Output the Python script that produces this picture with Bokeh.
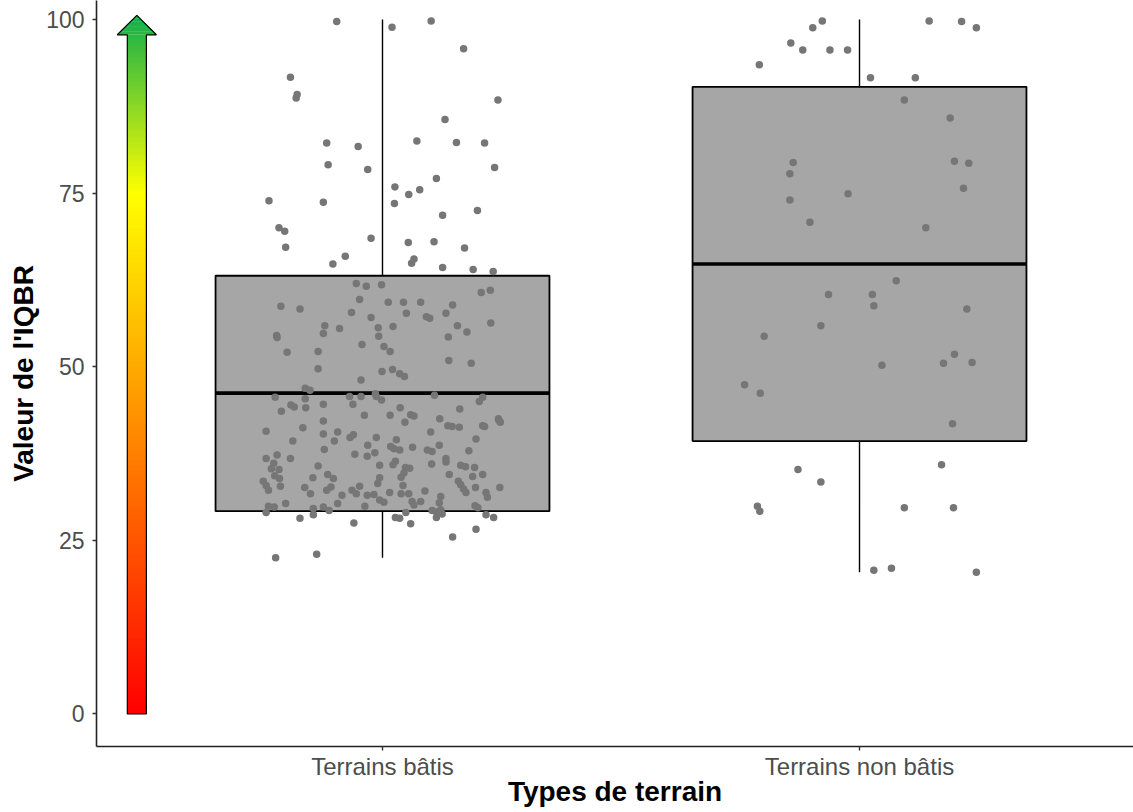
import numpy as np
from bokeh.plotting import figure
from bokeh.models import Range1d, FixedTicker
from bokeh.embed import file_html
from bokeh.resources import INLINE

# ---------------- data ----------------
categories = ["Terrains bâtis", "Terrains non bâtis"]
cat_pos = [1, 2]

q1 = [29.2, 39.3]
median = [46.2, 64.8]
q3 = [63.1, 90.3]
whisker_low = [22.5, 20.4]
whisker_high = [100.0, 100.0]

y_ticks = [0, 25, 50, 75, 100]

bati_jitter = [
    -0.096, 0.020, 0.102, 0.170, -0.193, -0.179, -0.181, 0.242, 0.131, -0.117,
    -0.051, 0.072, 0.155, 0.214, -0.114, -0.031, 0.235, 0.113, 0.026, 0.078,
    0.055, -0.238, -0.124, 0.025, 0.199, 0.126, -0.217, -0.205, -0.024, 0.054,
    0.108, -0.203, 0.172, -0.078, -0.104, 0.066, 0.061, 0.126, 0.190, 0.232,
    -0.055, -0.034, -0.002, -0.048, -0.213, -0.173, -0.065, -0.024, -0.121, -0.090,
    -0.009, -0.124, -0.222, -0.221, -0.008, -0.043, 0.003, -0.200, -0.135, -0.135,
    -0.001, -0.045, -0.162, -0.152, -0.225, -0.162, -0.069, -0.045, -0.015, -0.013,
    -0.002, -0.192, -0.185, -0.124, -0.062, -0.212, -0.161, -0.038, -0.124,
    0.207, 0.226, 0.012, 0.044, 0.080, 0.147, 0.050, 0.092, 0.099, 0.133,
    0.227, 0.022, 0.157, 0.177, 0.138, 0.016, 0.139, 0.186, 0.021, 0.036,
    0.046, 0.109, 0.203, 0.210, 0.037, 0.016, 0.059, 0.066, 0.162, 0.120, 0.243,
    -0.244, -0.167, -0.124, -0.094, -0.188, -0.101, -0.068, -0.061, -0.013, -0.031,
    -0.122, -0.058, -0.016, -0.032, -0.221, -0.244, -0.193, -0.228, -0.233, -0.217,
    -0.135, -0.006, -0.226, -0.216, -0.146, -0.115, -0.103, -0.006, -0.010, -0.250,
    -0.244, -0.214, -0.239, -0.163, -0.151, -0.117, -0.108, -0.085, -0.064, -0.055,
    -0.048, -0.032, -0.018, -0.006, 0.003, -0.203, -0.094, -0.037, -0.239, -0.227,
    -0.244, -0.145, -0.145, -0.124, -0.112, -0.173, -0.060, -0.224, -0.138,
    0.047, 0.137, 0.146, 0.161, 0.210, 0.214, 0.244, 0.247, 0.101, 0.029,
    0.196, 0.017, 0.024, 0.036, 0.063, 0.094, 0.104, 0.119, 0.181, 0.027,
    0.022, 0.048, 0.057, 0.045, 0.103, 0.133, 0.133, 0.164, 0.174, 0.193,
    0.039, 0.043, 0.140, 0.189, 0.210, 0.159, 0.164, 0.170, 0.175, 0.195,
    0.246, 0.015, 0.039, 0.055, 0.089, 0.122, 0.217, 0.220, 0.062, 0.080,
    0.066, 0.119, 0.194, 0.200, 0.104, 0.113, 0.122, 0.113, 0.125, 0.049,
    0.027, 0.036, 0.217, 0.233, 0.059, 0.196, 0.147,
]
bati_y = [
    99.7, 98.9, 99.8, 95.8, 91.7, 89.2, 88.7, 88.4, 85.6, 82.2,
    81.7, 82.5, 82.3, 82.2, 79.1, 78.4, 78.7, 77.1, 75.9, 75.5,
    74.8, 73.9, 73.7, 73.5, 72.5, 71.8, 70.0, 69.5, 68.5, 67.9,
    68.0, 67.2, 67.1, 65.9, 64.8, 65.5, 64.9, 64.3, 64.0, 63.7,
    62.0, 61.6, 61.8, 59.7, 58.7, 58.3, 57.8, 57.1, 55.9, 55.5,
    55.6, 54.8, 54.5, 54.2, 54.4, 53.2, 52.9, 52.1, 52.2, 49.7,
    49.3, 48.1, 46.9, 46.6, 45.6, 45.4, 45.7, 45.7, 46.1, 45.7,
    45.2, 44.5, 44.2, 44.6, 44.6, 43.6, 44.1, 43.0, 42.2,
    60.7, 61.0, 59.3, 59.3, 59.3, 58.9, 57.7, 57.2, 57.0, 57.7,
    56.3, 55.8, 55.9, 55.0, 54.3, 52.2, 50.9, 50.5, 49.6, 49.0,
    48.6, 45.9, 45.0, 45.6, 44.1, 43.0, 43.1, 42.9, 43.9, 42.5, 42.5,
    40.7, 41.2, 40.3, 40.6, 39.3, 39.3, 39.8, 40.2, 39.8, 38.7,
    38.1, 37.4, 37.6, 37.1, 37.3, 36.8, 36.8, 36.1, 35.3, 35.2,
    35.7, 35.8, 34.3, 33.9, 34.0, 34.5, 33.9, 34.0, 33.2, 33.5,
    32.9, 32.8, 32.2, 32.6, 31.7, 32.2, 32.7, 31.5, 32.2, 31.7,
    32.8, 31.5, 31.6, 30.8, 30.5, 30.3, 30.3, 29.9, 29.9, 29.8,
    29.0, 29.6, 28.7, 29.8, 29.3, 28.2, 27.5, 22.5, 23.0,
    42.0, 41.5, 41.4, 41.3, 41.5, 41.4, 42.3, 42.0, 40.6, 39.5,
    39.6, 38.5, 38.2, 38.0, 38.4, 38.0, 37.8, 38.7, 37.9, 36.4,
    35.9, 35.5, 35.4, 34.7, 36.0, 36.8, 36.3, 35.8, 35.6, 35.5,
    34.1, 32.9, 34.5, 34.2, 34.5, 33.5, 33.0, 32.4, 31.9, 32.6,
    32.6, 31.9, 31.7, 31.7, 32.1, 31.3, 31.9, 31.2, 30.6, 30.6,
    30.1, 30.4, 30.0, 29.7, 29.3, 29.1, 29.4, 28.3, 28.8, 29.0,
    28.3, 28.2, 28.7, 28.3, 27.4, 26.6, 25.5,
]

non_bati_jitter = [
    -0.078, -0.098, 0.146, 0.214, 0.245, -0.144, -0.119, -0.062, -0.025, -0.210,
    0.023, 0.117, 0.094, 0.190, -0.139, -0.146, 0.199, 0.229, -0.024, -0.146,
    0.218, -0.104, 0.139, 0.077, -0.065, 0.027, 0.030, 0.225, -0.081, -0.200,
    0.047, 0.199, 0.176, 0.236, -0.241, -0.208, 0.195, -0.129, 0.172, -0.081,
    -0.214, -0.209, 0.094, 0.197, 0.030, 0.067, 0.245,
]
non_bati_y = [
    99.8, 98.8, 99.8, 99.7, 98.8, 96.6, 95.6, 95.6, 95.6, 93.5,
    91.6, 91.6, 88.4, 85.8, 79.4, 77.8, 79.6, 79.3, 74.9, 74.0,
    75.7, 70.8, 70.0, 62.4, 60.4, 60.4, 58.8, 58.3, 55.9, 54.4,
    50.2, 51.8, 50.5, 50.6, 47.4, 46.2, 41.8, 35.2, 35.9, 33.4,
    29.9, 29.2, 29.7, 29.7, 20.7, 21.0, 20.4,
]

# gradient arrow (decoration): value scale 0 -> 100
arrow_stop_values = [0, 75, 100]
arrow_stop_colors = [(255, 0, 0), (255, 255, 0), (22, 176, 74)]

# ---------------- styles / geometry ----------------
FONT = "Liberation Sans"
BOX_HW = 0.35
ARROW_X = 0.485
SHAFT_HW = 0.020
HEAD_HW = 0.041
ARROW_BASE = 0.0
HEAD_BASE = 97.8
ARROW_TIP = 100.6

p = figure(
    width=1133, height=812,
    x_range=Range1d(0.40042, 2.5744),
    y_range=Range1d(-4.68, 102.736),
    output_backend="svg", toolbar_location=None,
    min_border_left=96, min_border_right=0, min_border_top=0, min_border_bottom=66,
)
p.outline_line_color = None
p.xgrid.visible = False
p.ygrid.visible = False
p.background_fill_color = "white"

# whiskers
p.segment(x0=cat_pos, x1=cat_pos, y0=q3, y1=whisker_high, line_color="black", line_width=1.4)
p.segment(x0=cat_pos, x1=cat_pos, y0=whisker_low, y1=q1, line_color="black", line_width=1.4)
# boxes
p.quad(left=[c - BOX_HW for c in cat_pos], right=[c + BOX_HW for c in cat_pos],
       bottom=q1, top=q3, fill_color="#A6A6A6", line_color="black", line_width=1.8)
p.segment(x0=[c - BOX_HW for c in cat_pos], x1=[c + BOX_HW for c in cat_pos],
          y0=median, y1=median, line_color="black", line_width=3.6)

# jittered points
pt_color = "#767676"
p.scatter(x=[cat_pos[0] + j for j in bati_jitter], y=bati_y, size=7.5,
          fill_color=pt_color, line_color=None)
p.scatter(x=[cat_pos[1] + j for j in non_bati_jitter], y=non_bati_y, size=7.5,
          fill_color=pt_color, line_color=None)

# gradient arrow
n = 260
edges = np.linspace(ARROW_BASE, HEAD_BASE, n + 1)
mids = (edges[:-1] + edges[1:]) / 2
def col_at(v):
    r = np.interp(v, arrow_stop_values, [c[0] for c in arrow_stop_colors])
    g = np.interp(v, arrow_stop_values, [c[1] for c in arrow_stop_colors])
    b = np.interp(v, arrow_stop_values, [c[2] for c in arrow_stop_colors])
    return "#%02x%02x%02x" % (int(round(r)), int(round(g)), int(round(b)))
cols = [col_at(v) for v in mids]
tops = list(edges[1:] + 0.12)
tops[-1] = HEAD_BASE
p.quad(left=ARROW_X - SHAFT_HW, right=ARROW_X + SHAFT_HW,
       bottom=list(edges[:-1]), top=tops, fill_color=cols, line_color=None)
hn = 12
hy = np.linspace(HEAD_BASE, ARROW_TIP, hn + 1)
head_xs, head_ys, head_cols = [], [], []
for k in range(hn):
    y0, y1 = hy[k], hy[k + 1]
    w0 = HEAD_HW * (ARROW_TIP - y0) / (ARROW_TIP - HEAD_BASE)
    w1 = HEAD_HW * (ARROW_TIP - y1) / (ARROW_TIP - HEAD_BASE)
    head_xs.append([ARROW_X - w0, ARROW_X + w0, ARROW_X + w1, ARROW_X - w1])
    head_ys.append([y0, y0, y1 + 0.05, y1 + 0.05])
    head_cols.append(col_at(min(100, (y0 + y1) / 2)))
p.patches(xs=head_xs, ys=head_ys, fill_color=head_cols, line_color=None)
p.patch(x=[ARROW_X - SHAFT_HW, ARROW_X - SHAFT_HW, ARROW_X - HEAD_HW, ARROW_X,
           ARROW_X + HEAD_HW, ARROW_X + SHAFT_HW, ARROW_X + SHAFT_HW, ARROW_X - SHAFT_HW],
        y=[ARROW_BASE, HEAD_BASE, HEAD_BASE, ARROW_TIP, HEAD_BASE, HEAD_BASE, ARROW_BASE, ARROW_BASE],
        fill_color=None, line_color="black", line_width=1.2)

# axes
xa = p.xaxis[0]
xa.ticker = FixedTicker(ticks=cat_pos)
xa.major_label_overrides = {cat_pos[i]: categories[i] for i in range(len(categories))}
xa.minor_tick_line_color = None
xa.major_tick_in = 0
xa.major_tick_out = 4
xa.major_label_standoff = 2
xa.axis_label = "Types de terrain"
xa.axis_label_standoff = -7
xa.major_label_text_line_height = 1.0
xa.axis_label_text_line_height = 1.0

ya = p.yaxis[0]
ya.ticker = FixedTicker(ticks=y_ticks)
ya.minor_tick_line_color = None
ya.major_tick_in = 0
ya.major_tick_out = 4
ya.major_label_standoff = 8
ya.axis_label = "Valeur de l'IQBR"
ya.axis_label_standoff = 4

for ax, fs in ((xa, "24px"), (ya, "23px")):
    ax.axis_line_color = "#222222"
    ax.axis_line_width = 1.6
    ax.major_tick_line_color = "#333333"
    ax.major_tick_line_width = 1.4
    ax.major_label_text_font = FONT
    ax.major_label_text_font_size = fs
    ax.major_label_text_color = "#4D4D4D"
    ax.axis_label_text_font = FONT
    ax.axis_label_text_font_size = "28px"
    ax.axis_label_text_font_style = "bold"
    ax.axis_label_text_color = "black"

open("out.html", "w").write(file_html(p, INLINE))
